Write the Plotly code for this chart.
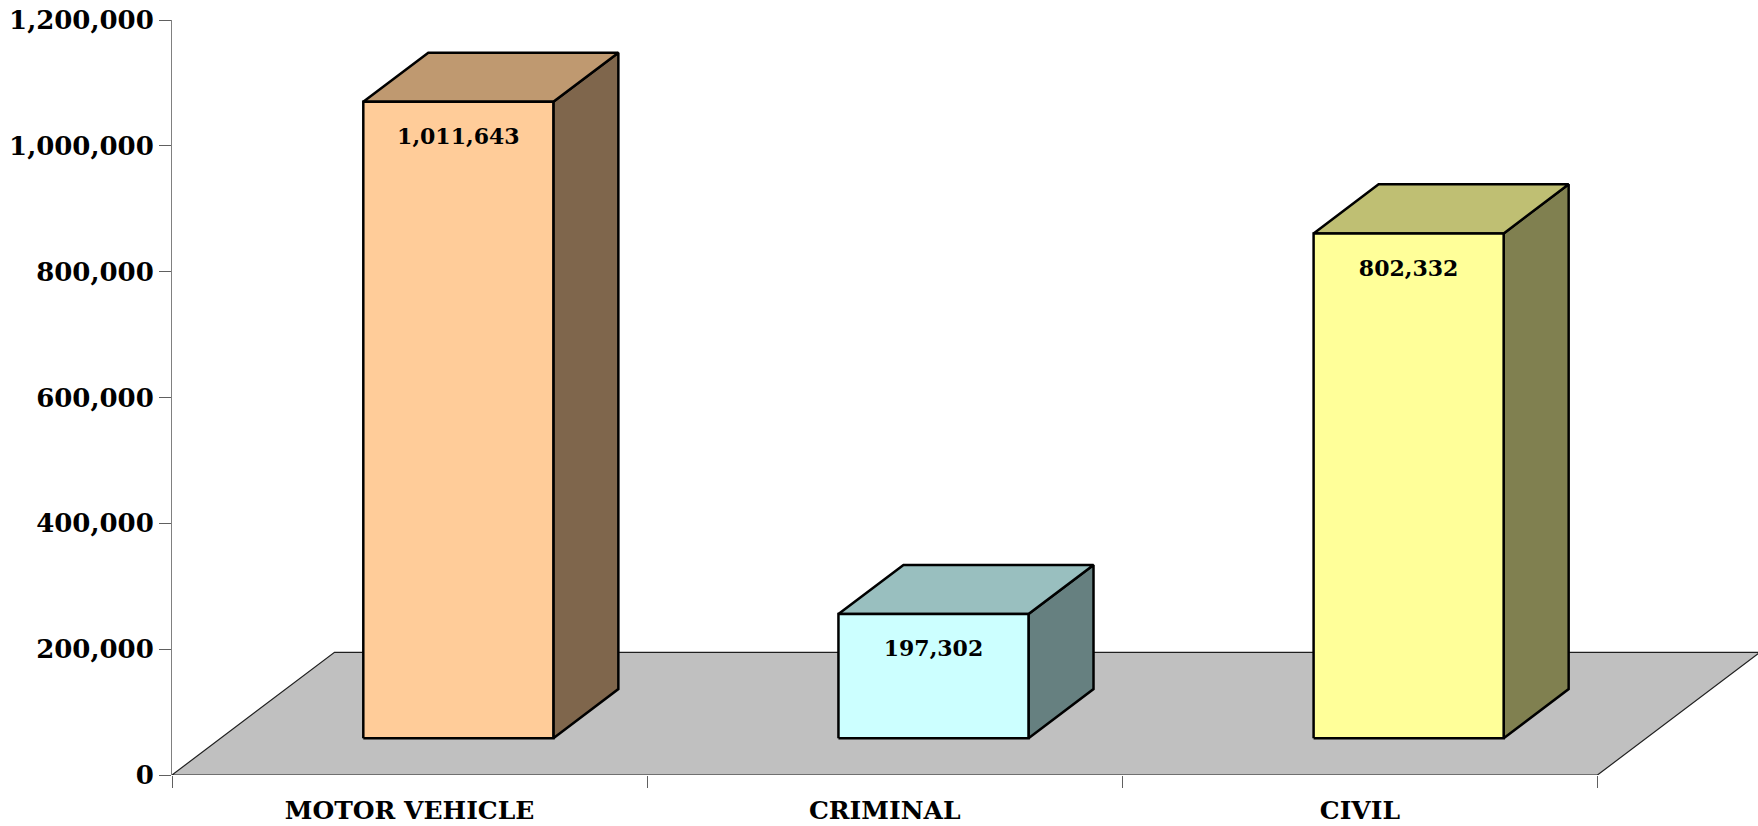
import plotly.graph_objects as go

categories = ["MOTOR VEHICLE", "CRIMINAL", "CIVIL"]
values = [1011643, 197302, 802332]
y_ticks = [0, 200000, 400000, 600000, 800000, 1000000, 1200000]

front_colors = ["#FFCC99", "#CCFFFF", "#FFFF99"]
top_colors = ["#BF9970", "#99BFBF", "#BFBF73"]
side_colors = ["#7F664C", "#668080", "#808050"]

# fake 3d: depth of the floor in axis units
DEPTH_X = 0.342
DEPTH_Y = 195000
BAR_W = 0.4
FONT = "DejaVu Serif"


def polygon(xs, ys, fill, line_color, line_width):
    return go.Scatter(x=xs + xs[:1], y=ys + ys[:1], mode="lines", fill="toself",
                      fillcolor=fill, line=dict(color=line_color, width=line_width),
                      hoverinfo="skip", showlegend=False, cliponaxis=False)


fig = go.Figure()

n = len(categories)
fig.add_trace(polygon([0, n, n + DEPTH_X, DEPTH_X], [0, 0, DEPTH_Y, DEPTH_Y],
                      "#C0C0C0", "#202020", 1.2))

label_x = []
for i, v in enumerate(values):
    # bar stands 30% into the floor and takes 40% of its depth
    x0 = i + 0.5 + 0.3 * DEPTH_X - BAR_W / 2
    x1 = x0 + BAR_W
    y0 = 0.3 * DEPTH_Y
    y1 = y0 + v
    dx = 0.4 * DEPTH_X
    dy = 0.4 * DEPTH_Y
    fig.add_trace(polygon([x1, x1 + dx, x1 + dx, x1], [y0, y0 + dy, y1 + dy, y1],
                          side_colors[i], "black", 2.5))
    fig.add_trace(polygon([x0, x1, x1 + dx, x0 + dx], [y1, y1, y1 + dy, y1 + dy],
                          top_colors[i], "black", 2.5))
    fig.add_trace(polygon([x0, x1, x1, x0], [y0, y0, y1, y1],
                          front_colors[i], "black", 2.5))
    label_x.append((x0 + x1) / 2)

fig.add_trace(go.Scatter(x=label_x, y=values, mode="text",
                         text=[f"{v:,}" for v in values],
                         textfont=dict(family=FONT, size=22, color="black", weight=700),
                         hoverinfo="skip", showlegend=False))

fig.update_layout(
    width=1758, height=826, autosize=False,
    margin=dict(l=171.5, r=0, t=20, b=51, pad=0),
    paper_bgcolor="white", plot_bgcolor="white",
    showlegend=False,
    font=dict(family=FONT, color="black"),
)
# no x axis line: the front edge of the floor stands in for it and stops at the last tick
fig.update_xaxes(
    range=[0, 1586.5 / 475.3], showgrid=False, zeroline=False, automargin=False,
    showline=False,
    tickmode="array", tickvals=[i + 0.5 for i in range(n)], ticktext=categories,
    ticks="", ticklabelstandoff=18,
    tickfont=dict(family=FONT, size=25, color="black", weight=700),
    minor=dict(tickmode="array", tickvals=list(range(n + 1)), ticks="outside",
               ticklen=12, tickcolor="#606060", tickwidth=1, showgrid=False),
)
fig.update_yaxes(
    range=[0, 1200000], showgrid=False, zeroline=False, automargin=False,
    showline=True, linecolor="#808080", linewidth=1,
    tickmode="array", tickvals=y_ticks, tickformat=",d",
    ticks="outside", ticklen=12, tickcolor="#606060", tickwidth=1,
    tickfont=dict(family=FONT, size=26, color="black", weight=700),
)

# drop the browser's default body margin so the figure fills the window
fig.write_html("out.html", config={"displayModeBar": False},
               post_script="document.body.style.margin='0';document.documentElement.style.overflow='hidden';")
